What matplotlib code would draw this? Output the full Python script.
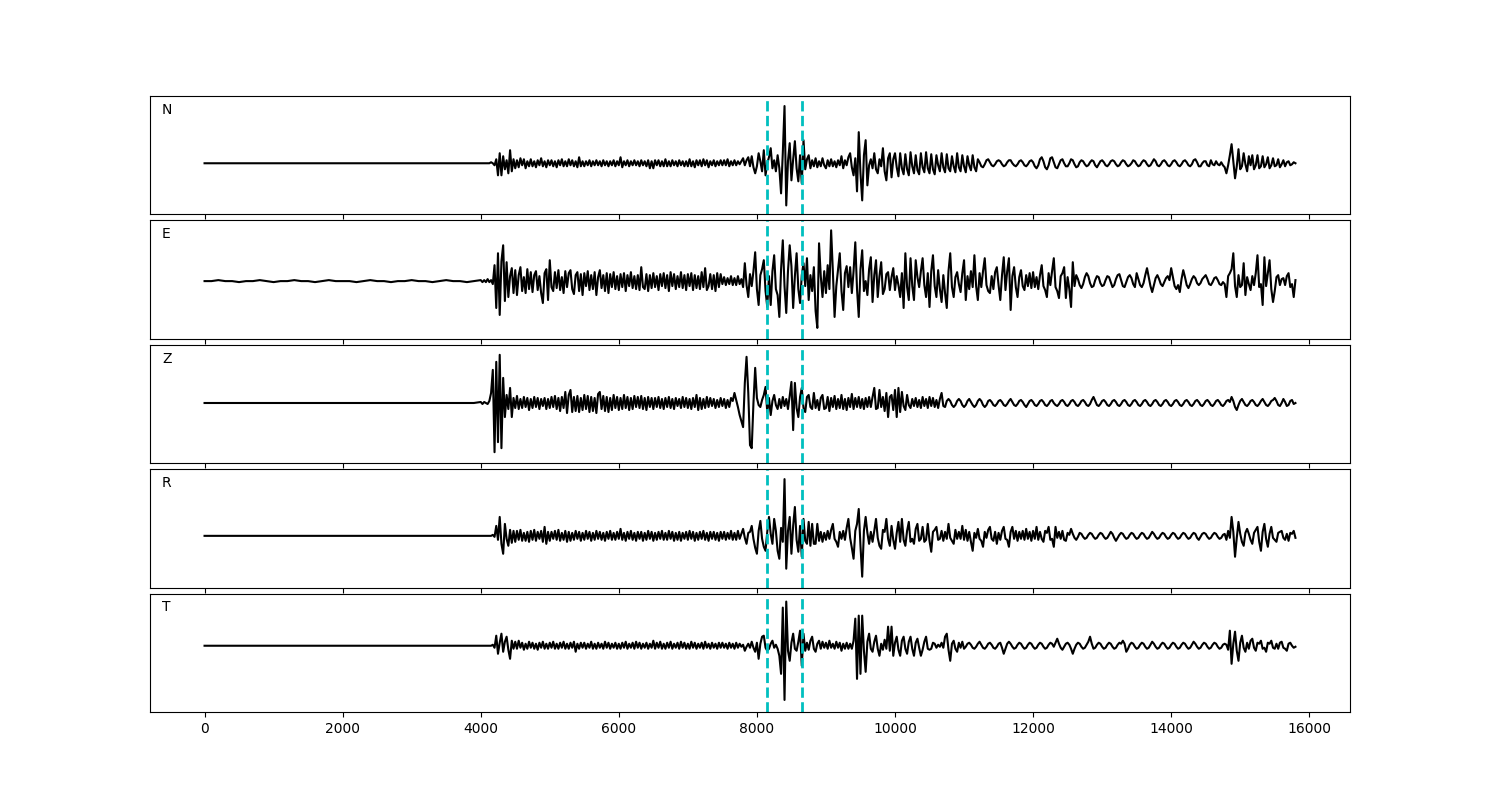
import numpy as np
import matplotlib
matplotlib.use('Agg')
from matplotlib import pyplot as plt

# Components shown top to bottom
components = ['N', 'E', 'Z', 'R', 'T']

# Picked window (dashed lines)
picks = [8150, 8650]

# Quiet part of each trace, one sample every 100 from 0 to 3900
n_early = [0] * 40
e_early = [0, 0, 1, 0, 0, -1, 0, 0, 1, 0, -1, 0, 0, 1, 0, 0, -1, 0, 1, 0,
           0, 0, -1, 0, 1, 0, 0, -1, 0, 0, 1, 0, 0, -1, 0, 1, 0, 0, -1, 0]
z_early = [0] * 40
r_early = [0] * 40
t_early = [0] * 40

# Active part, one sample every 25 from 4000 on
n_main = [
    0, 0, 0, 0, 0, 0, 1, 0, -2, 4, -12, 10, -12, 7, -6, 3, -10, 13, -8, 4,
    -5, 3, -4, 5, -2, 4, -5, 2, -3, 4, -3, 2, -4, 3, -2, 5, -3, 2, -4, 3,
    -2, 3, -3, 2, -4, 3, -2, 4, -3, 2, -3, 4, -2, 3, -3, 2, -4, 6, -3, 2,
    -3, 2, -2, 3, -3, 2, -2, 3, -2, 2, -3, 3, -2, 2, -3, 2, -2, 3, -3, 2,
    -2, 6, -4, 2, -2, 3, -3, 2, -2, 3, -2, 2, -3, 3, -2, 2, -3, 3, -5, 2,
    -5, 3, -2, 3, -3, 2, -3, 4, -3, 2, -3, 3, -2, 2, -3, 3, -2, 2, -3, 2,
    -3, 4, -3, 2, -4, 3, -2, 3, -3, 4, -2, 3, -4, 2, -2, 3, -3, 2, -2, 3,
    -2, 3, -2, 4, -3, 2, -2, 3, -2, 2, -1, 2, 5, -2, 3, 6, -3, 7, -4, -10,
    -3, 10, 2, -8, 13, -12, 0, 6, 15, -5, 3, -8, 8, -5, -30, 10, 57, -42, 2, 20,
    -17, 4, 22, -5, -18, 8, -20, 23, -6, 4, 8, -5, 3, -3, 5, -4, 2, -3, 5, -2,
    -5, 3, -3, 4, -3, 2, -4, 3, -2, 7, -5, 3, -2, 6, 10, -4, -12, 5, -28, 31,
    -10, -37, 8, 23, -22, -2, 4, -5, 10, -6, -10, 4, -3, 15, -8, -17, 5, 10, -14, 4,
    10, -4, -13, 10, -5, -11, 9, -6, -12, 11, -3, -10, 8, -7, -11, 10, -4, -9, 11, -5,
    -10, 9, -6, -11, 8, -2, -8, 10, -4, -9, 9, -5, -8, 7, -3, -9, 10, -4, -8, 8,
    -3, -9, 7, -2, -7, 8, -4, -8, 4, 1, -3, -4, -1, 3, 4, 1, -2, -3, -1, 2,
    3, 2, -1, -3, -2, 1, 3, 3, 0, -2, -3, -1, 2, 3, 1, -2, -3, -1, 2, 3,
    1, -3, -5, -2, 4, 6, 2, -4, -6, -2, 5, 6, 1, -4, -5, -1, 3, 4, 0, -3,
    -3, 0, 4, 3, -1, -4, -3, 1, 3, 2, -1, -3, -2, 1, 3, 2, -2, -4, -1, 2,
    3, 1, -2, -3, -1, 2, 3, 2, -1, -3, -2, 1, 3, 2, -1, -3, -2, 0, 3, 2,
    -1, -3, -2, 1, 3, 2, -1, -3, -2, 1, 4, 2, -2, -3, -1, 2, 3, 1, -2, -3,
    -1, 2, 3, 1, -2, -3, -1, 2, 3, 1, -2, -3, -1, 3, 4, 1, -3, -3, 0, 2,
    2, -2, -3, 3, -1, -2, 2, -1, -2, 1, -2, -4, -10, -2, 8, 19, 2, -15, -3, 14,
    -6, -3, 10, -1, -8, 7, -2, 8, -6, -2, 8, -5, -3, 7, -4, -1, 6, -5, -2, 5,
    -3, -2, 4, -4, -1, 3, -3, 1, 2, -2, -1, 1, 0]

e_main = [
    1, -1, 1, -1, 2, -1, 1, -3, 16, -27, 28, -34, 20, 36, -20, 19, -16, 5, 13, -12,
    11, -14, 6, 14, -10, 4, -12, 12, -8, 9, -11, 6, 10, -9, 5, -12, -22, 8, 12, -19,
    21, -6, -10, 9, -7, 11, -9, 4, -12, 10, -6, 8, 11, -8, -13, 6, 9, -10, 7, -14,
    8, -5, 10, -9, 6, -8, 9, -14, 4, 11, -7, 6, -10, 8, -12, 7, -6, 9, -8, 5,
    -9, 7, -6, 8, -10, 6, -5, 9, -7, 5, -8, 6, -9, 14, -6, -8, 7, -10, 6, -7,
    8, -6, 5, -9, 7, -5, 8, -7, 6, -10, 9, -5, 7, -8, 5, -6, 9, -7, 6, -9,
    7, -5, 8, -9, 6, -7, 5, -8, 9, -6, 13, -9, -5, 7, -8, 6, -10, 8, -6, 7,
    -3, 4, -4, 3, -3, 5, -4, 3, -4, 5, -3, 2, -6, 18, -4, -16, 7, -5, 10, 29,
    -8, -24, 6, 12, 21, -10, -26, 5, -24, 10, 26, -8, -14, -36, 12, 41, -5, -32, 10, 36,
    15, -27, 5, 28, -8, -22, 6, 18, -5, 23, -19, 6, -10, 14, -30, -47, 38, 5, -16, 10,
    -12, 16, -8, 51, 10, -36, -5, 12, 28, -10, -29, 8, 15, -6, 14, -12, 10, 39, -8, -36,
    12, 31, -10, 0, -14, 12, 24, -21, 6, 21, -16, 5, 19, -13, -8, 7, 9, -9, 4, 13,
    -9, 5, -4, -16, 8, -27, 28, -6, -19, 23, -5, -19, 21, 4, -6, 10, 23, -4, -16, 8,
    -26, 10, 26, -5, -16, 11, -8, -21, 6, -12, -27, 10, 28, -6, -16, 4, 9, -3, -11, 8,
    21, -19, 5, -8, 10, -6, 26, -5, -19, 8, -6, 10, 23, -4, -10, -12, 5, -8, 9, 14,
    -4, -19, 6, 24, -9, 10, 23, -29, 5, 14, -6, -16, 4, 11, -5, -9, 6, -5, 8, -7,
    9, -6, 4, -8, 6, 16, -5, -9, -16, 8, -4, 10, 23, -6, -10, -17, 5, 8, 14, -17,
    4, -8, -26, 19, -5, 6, 2, -4, -7, -3, 4, 8, 5, -2, -6, -5, 1, 5, 4, -2,
    -5, -4, 1, 5, 4, -1, -6, -4, 2, 6, 7, 1, -5, -6, -1, 4, 6, 3, -3, -6,
    8, 2, -4, -6, -2, 6, 13, 4, -5, -11, -4, 3, 6, 2, -3, -5, -1, 3, 5, 1,
    13, 4, -5, -8, -4, -11, 2, 11, 4, -4, -7, -3, 2, 5, 3, -2, -4, -2, 2, 4,
    6, 2, -3, -4, -1, 3, 4, 1, -3, -4, -1, -3, -16, 5, 8, 12, 28, -5, -16, 6,
    -6, -4, 18, -14, 4, -3, -9, 5, -4, 8, 26, -6, -3, -24, 24, -5, 8, 21, -8, -21,
    -10, 4, 6, -4, 2, 3, -4, 5, 8, -6, -3, -16, 1]

z_main = [
    1, -1, 1, 0, -1, 2, 10, 33, -49, 41, -39, 48, -45, 25, -14, 8, -6, 15, -14, 5,
    -5, 7, -6, 4, -5, 6, -4, 5, -7, 4, -5, 6, -4, 5, -6, 4, -3, 5, -6, 4,
    -5, 6, -4, 7, -6, 5, -8, 6, -5, 11, -10, 8, 13, -9, 6, -8, 7, -9, 5, -7,
    8, -6, 7, -9, 6, -8, 5, -10, 9, 11, -6, 7, -8, 6, -9, 5, -7, 8, -5, 6,
    -7, 5, -6, 8, -5, 6, -7, 5, -6, 7, -4, 6, -5, 7, -6, 5, -7, 6, -4, 5,
    -6, 5, -4, 6, -5, 4, -6, 5, -4, 6, -5, 4, -6, 5, -3, 4, -5, 6, -4, 5,
    -5, 4, -6, 5, -4, 8, -7, 5, -6, 4, -5, 6, -4, 5, -3, 4, -5, 3, -4, 5,
    -3, 4, -5, 3, -4, 5, 2, 10, 3, -4, -12, -18, -24, 20, 46, 10, -42, -45, 0, 35,
    5, -2, -4, 3, 8, 16, -9, 5, -12, 2, 8, -2, -6, 4, -5, 6, -3, 4, -6, 7,
    21, -27, 20, -5, -14, 6, 15, -5, -9, 6, 8, -4, -6, 10, -5, 3, -7, 5, 8, -6,
    -5, 6, -8, 5, -4, 7, -6, 4, -5, 8, -6, 4, -7, 5, -4, 9, -6, 5, -4, 6,
    -5, 4, -6, 5, -4, 6, -4, 6, 15, -6, -5, 13, -4, 6, -8, 10, -14, 6, 8, -7,
    13, -14, 15, -9, 11, -3, -7, 8, -2, -5, 4, -3, 5, -4, 3, -5, 6, -3, 4, -5,
    6, -3, 5, -4, 3, -5, 4, 10, -3, -4, 2, 4, 2, -2, -4, -2, 2, 4, 2, -2,
    -4, -2, 2, 4, 1, -2, -4, -2, 2, 4, 2, -2, -4, -2, 2, 3, 1, -2, -3, -1,
    2, 3, 1, -2, -3, -1, 2, 4, 1, -2, -3, -1, 2, 3, 1, -2, -4, -1, 2, 3,
    1, -2, -3, -1, 2, 3, 1, -2, -3, -1, 2, 3, 0, -2, -3, -1, 2, 3, 1, -2,
    -3, -1, 2, 3, 1, -2, -3, -1, 2, 3, 1, -2, -3, -1, 3, 6, 2, -2, -3, -1,
    2, 3, 1, -2, -3, -1, 2, 3, 1, -2, -3, -1, 2, 3, 1, -2, -3, -1, 2, 3,
    1, -2, -3, -1, 2, 3, 1, -2, -3, -1, 2, 3, 1, -2, -3, -1, 2, 3, 1, -2,
    -3, -1, 2, 3, 1, -2, -3, -1, 2, 3, 1, -2, -3, -1, 2, 3, 1, -2, -3, -1,
    2, 3, 1, -2, -3, -1, 2, 3, 1, -2, -3, -1, 2, 3, 1, 6, 2, -4, -7, -2,
    2, 4, 1, -2, -3, -1, 2, 3, 1, -2, -3, -1, 2, 4, 1, -2, -3, -1, 2, 3,
    5, 2, -2, -3, 0, 4, 1, -3, -2, 2, 3, -1, 0]

r_main = [
    0, 0, 0, 0, 0, 0, 0, 1, -1, 10, -4, 19, -8, -18, 12, -3, -10, 6, -7, 5,
    -6, 5, -4, 6, -5, 3, -5, 4, -6, 5, -4, 6, -5, 4, -3, 5, -6, 9, -8, 4,
    -5, 4, -3, 5, -4, 6, -5, 3, -4, 5, -6, 4, -5, 3, -4, 5, -3, 4, -5, 3,
    -4, 5, -3, 4, -5, 3, -4, 5, -3, 4, -4, 3, -5, 4, -3, 5, -4, 3, -4, 4,
    -3, 7, -4, 3, -5, 4, -3, 5, -4, 3, -5, 4, -3, 4, -5, 3, -4, 5, -3, 4,
    -5, 3, -4, 4, -3, 5, -4, 3, -4, 5, -3, 4, -5, 3, -4, 4, -5, 3, -3, 4,
    -4, 5, -3, 4, -5, 3, -4, 4, -3, 5, -4, 3, -5, 4, -3, 4, -4, 3, -5, 4,
    -3, 4, -4, 3, -3, 5, -4, 3, -4, 5, -3, 2, 7, -2, -8, 3, 4, 10, -3, -12,
    -18, 5, 15, -3, -11, -15, 4, 19, 2, -8, 17, 5, -15, -23, 8, -6, 57, -33, 5, 19,
    -18, 10, 29, -4, -16, 10, -21, 17, -5, -8, 14, -10, 12, -8, -8, 12, -5, 4, -6, 3,
    -4, 5, -3, 6, 12, -3, -6, -11, 4, -3, 5, -4, 8, 17, -2, -12, -23, 5, 12, 27,
    -10, -41, 5, 19, 3, -8, 4, -6, 5, 17, -2, -10, -13, 6, 4, 17, -3, -10, 10, -4,
    -13, 3, 14, -6, 17, -4, -10, 5, 14, -6, -3, -8, 7, 12, -5, -3, 9, -6, -4, 12,
    -5, -16, 4, 6, 9, -4, -3, 5, -5, 4, -3, 12, -2, -5, -8, 6, -3, 4, -3, 10,
    -4, 6, -5, 4, -6, -15, 3, -2, 7, -3, -5, -11, 4, -2, 6, 9, -3, -5, 4, -8,
    3, -4, 5, 9, -3, -4, -11, 4, 9, -3, 5, -5, 4, -3, 5, -4, 7, -3, 4, -5,
    5, -3, 9, -4, 4, -3, -6, 5, 3, 9, -4, -3, -11, 9, -2, 4, -3, 5, -4, -5,
    3, 1, 7, 2, -2, -4, -1, 3, 2, -1, -3, -2, 1, 3, 2, -1, -3, -2, 1, 3,
    2, -1, -3, -2, 1, 4, 2, -2, -5, -2, 1, 3, 2, -1, -3, -2, 1, 3, 2, -1,
    -3, -2, 1, 3, 2, -1, -3, -2, 1, 4, 2, -1, -3, -2, 1, 3, 2, -1, -3, -2,
    1, 3, 2, -1, -3, -2, 1, 3, 2, -1, -3, -2, 1, 3, 2, -2, -4, -1, 2, 3,
    2, -1, -3, -2, 1, 3, 2, -1, -3, -2, 1, 2, -4, 5, -2, 19, 4, -21, -2, 14,
    2, -6, -10, 3, 7, 2, -4, -8, 3, 6, 9, -6, -15, 4, 12, -3, -11, 2, 9, -2,
    -4, -6, 3, 4, 5, -2, -4, 2, -5, 3, 2, 5, -2]

t_main = [
    0, 0, 0, 0, 0, 0, 0, 1, -2, 10, -8, 3, 12, -6, 4, 9, -4, -13, 5, -3,
    4, -3, 5, -2, 3, -4, 2, -3, 4, -2, 3, -3, 2, -4, 3, -2, 4, -3, 2, -3,
    3, -2, 4, -3, 2, -3, 3, -2, 4, -3, 2, -3, 3, -2, 4, -6, 2, -3, 3, -2,
    3, -3, 2, -2, 4, -3, 2, -3, 3, -2, 2, -3, 4, -2, 3, -3, 2, -2, 3, -3,
    2, -3, 3, -2, 4, -3, 2, -2, 3, -3, 4, -2, 3, -3, 2, -2, 3, -3, 2, -2,
    5, -3, 3, -2, 4, -3, 2, -3, 3, -2, 4, -3, 2, -2, 3, -3, 4, -2, 3, -3,
    2, -3, 4, -2, 3, -3, 2, -2, 3, -3, 4, -2, 2, -3, 3, -2, 2, -3, 3, -2,
    3, -2, 2, -3, 3, -2, 2, -3, 3, -2, 2, -1, 1, -5, -1, 2, -2, 4, -2, -6,
    3, -13, 2, 9, 10, -2, -5, -3, 2, 5, -2, 1, -3, -10, -28, 38, -54, 44, -5, -15,
    3, 12, -3, -5, 4, 15, -20, 12, -5, 3, -4, 5, 9, -3, -6, 2, 5, -3, 4, -2,
    3, -3, 5, -2, 2, -3, 4, -2, 3, -5, 2, -3, 3, -3, 2, -3, 5, 27, -33, 30,
    -28, 30, -5, -26, 4, 12, -3, -6, 4, 10, -3, -10, 2, -4, 6, -3, 19, -5, 19, -10,
    3, 9, -4, -10, 5, 9, -3, -8, 4, 9, -3, -10, 3, 7, -2, -10, -4, 4, 9, -3,
    -4, -3, 3, 2, -2, 1, -1, 3, -2, 9, 12, -4, -15, 2, 5, -3, -6, 3, -2, 4,
    -3, -1, 2, 3, 1, -2, -3, -1, 2, 4, 1, -2, -3, -1, 2, 3, 1, -2, -3, -1,
    2, 3, -2, -8, -3, 2, 4, 2, -1, -3, -2, 1, 3, 2, -1, -3, -2, 1, 3, 2,
    -1, -3, -2, 1, 3, 2, -1, -3, -2, 1, 3, 2, -1, 3, 7, 2, -2, -4, -1, 2,
    3, 1, -3, -8, -3, 1, 3, 2, -1, -3, -2, 1, 4, 9, 2, -3, -2, 1, 3, 2,
    -1, -3, -2, 1, 3, 2, -1, -3, -2, 1, 3, 2, 5, 2, -6, -3, 1, 3, 2, -1,
    -3, -2, 1, 3, 2, -1, -3, -2, 1, 4, 2, -1, -3, -2, 1, 3, 2, -1, -3, -2,
    1, 3, 2, -1, -3, -2, 1, 3, 2, -1, -3, -2, 1, 4, 2, -1, -3, -2, 1, 3,
    2, -1, -3, -2, 1, 3, 2, -1, -3, -2, 1, 2, 1, -4, 15, -18, 2, 14, -5, -15,
    3, 10, -2, -6, 3, -3, 5, 7, -2, -5, 3, 2, 5, -3, -2, -6, 3, 2, 5, -2,
    -3, 2, -3, 3, 4, -2, -3, -5, 2, 3, 0, -2, -1]

traces = {
    'N': (n_early, n_main),
    'E': (e_early, e_main),
    'Z': (z_early, z_main),
    'R': (r_early, r_main),
    'T': (t_early, t_main),
}

# y window of each panel around its zero line
ylims = {'N': (-51, 67), 'E': (-58, 61), 'Z': (-60, 58), 'R': (-52, 67), 'T': (-66, 52)}

fig, axes = plt.subplots(5, 1, sharex=True, figsize=(15, 8))
fig.subplots_adjust(left=0.1, right=0.9, bottom=0.11, top=0.88, hspace=0.05)

for ax, comp in zip(axes, components):
    early, main = traces[comp]
    t = np.concatenate([np.arange(len(early)) * 100, 4000 + np.arange(len(main)) * 25])
    y = np.concatenate([early, main])
    ax.plot(t, y, 'k', lw=1.5)
    for p in picks:
        ax.axvline(p, color='c', ls='--', lw=2)
    ax.set_ylim(ylims[comp])
    ax.set_yticks([])
    ax.text(0.01, 0.85, comp, transform=ax.transAxes)

axes[-1].set_xlim(-790, 16590)

fig.savefig('out.png', dpi=100)
